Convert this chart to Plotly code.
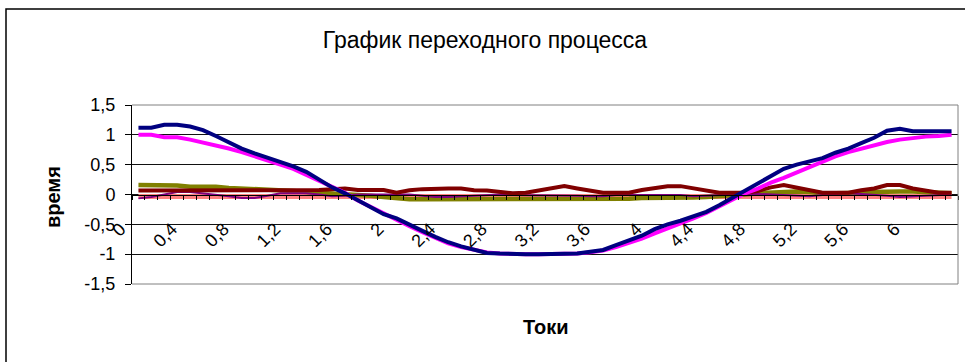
import plotly.graph_objects as go

# Current values (category axis), 0 … 6.3 in steps of 0.1
currents = [
    0.0, 0.1, 0.2, 0.3, 0.4, 0.5, 0.6, 0.7, 0.8, 0.9,
    1.0, 1.1, 1.2, 1.3, 1.4, 1.5, 1.6, 1.7, 1.8, 1.9,
    2.0, 2.1, 2.2, 2.3, 2.4, 2.5, 2.6, 2.7, 2.8, 2.9,
    3.0, 3.1, 3.2, 3.3, 3.4, 3.5, 3.6, 3.7, 3.8, 3.9,
    4.0, 4.1, 4.2, 4.3, 4.4, 4.5, 4.6, 4.7, 4.8, 4.9,
    5.0, 5.1, 5.2, 5.3, 5.4, 5.5, 5.6, 5.7, 5.8, 5.9,
    6.0, 6.1, 6.2, 6.3,
]

series_navy = [
    1.12, 1.12, 1.17, 1.17, 1.14, 1.08, 0.98, 0.87, 0.77, 0.69,
    0.62, 0.55, 0.47, 0.38, 0.25, 0.12, 0.02, -0.10, -0.22, -0.33,
    -0.40, -0.51, -0.61, -0.71, -0.80, -0.87, -0.93, -0.98, -0.99, -1.00,
    -1.00, -1.00, -1.00, -1.00, -0.99, -0.96, -0.93, -0.85, -0.77, -0.69,
    -0.58, -0.50, -0.44, -0.37, -0.29, -0.18, -0.06, 0.06, 0.18, 0.31,
    0.43, 0.50, 0.55, 0.61, 0.70, 0.77, 0.86, 0.95, 1.07, 1.10,
    1.06, 1.06, 1.06, 1.06,
]

series_magenta = [
    1.00, 1.00, 0.96, 0.96, 0.92, 0.87, 0.83, 0.77, 0.71, 0.645,
    0.58, 0.50, 0.43, 0.33, 0.24, 0.14, 0.03, -0.10, -0.21, -0.32,
    -0.42, -0.53, -0.63, -0.73, -0.82, -0.88, -0.93, -0.97, -0.99, -1.00,
    -1.00, -1.00, -1.00, -1.00, -0.99, -0.97, -0.94, -0.88, -0.81, -0.74,
    -0.65, -0.57, -0.48, -0.40, -0.31, -0.20, -0.08, 0.02, 0.10, 0.20,
    0.28, 0.37, 0.46, 0.55, 0.64, 0.71, 0.77, 0.83, 0.88, 0.92,
    0.95, 0.97, 0.98, 1.00,
]

series_olive = [
    0.16, 0.16, 0.16, 0.15, 0.13, 0.13, 0.13, 0.11, 0.10, 0.10,
    0.08, 0.07, 0.06, 0.04, 0.03, 0.02, 0.01, 0.00, -0.02, -0.04,
    -0.06, -0.08, -0.08, -0.08, -0.08, -0.08, -0.08, -0.08, -0.08, -0.08,
    -0.08, -0.08, -0.08, -0.08, -0.08, -0.08, -0.08, -0.08, -0.07, -0.06,
    -0.06, -0.06, -0.06, -0.05, -0.04, -0.03, -0.01, 0.00, 0.02, 0.03,
    0.04, 0.05, 0.04, 0.02, 0.02, 0.02, 0.03, 0.04, 0.05, 0.05,
    0.05, 0.04, 0.03, 0.02,
]

series_darkred = [
    0.065, 0.065, 0.065, 0.065, 0.065, 0.065, 0.065, 0.065, 0.065, 0.065,
    0.065, 0.065, 0.065, 0.065, 0.075, 0.09, 0.10, 0.075, 0.075, 0.075,
    0.03, 0.07, 0.09, 0.10, 0.10, 0.10, 0.07, 0.065, 0.05, 0.02,
    0.03, 0.07, 0.10, 0.14, 0.10, 0.06, 0.03, 0.03, 0.03, 0.075,
    0.10, 0.14, 0.14, 0.10, 0.06, 0.03, 0.03, 0.03, 0.06, 0.12,
    0.16, 0.12, 0.07, 0.03, 0.03, 0.03, 0.07, 0.10, 0.16, 0.16,
    0.10, 0.07, 0.03, 0.03,
]

series_purple = [
    -0.065, -0.04, 0.00, 0.04, 0.04, 0.02, 0.00, -0.03, -0.06, -0.06,
    -0.02, 0.02, 0.02, 0.02, 0.00, -0.03, -0.02, 0.00, 0.00, 0.00,
    0.00, 0.00, -0.02, -0.04, -0.04, -0.03, -0.01, 0.00, 0.00, -0.01,
    -0.01, -0.01, -0.01, -0.01, -0.02, -0.03, -0.03, -0.01, -0.01, -0.01,
    -0.01, 0.00, -0.01, -0.03, -0.02, 0.00, 0.00, 0.01, 0.01, 0.00,
    -0.01, -0.02, -0.03, -0.01, 0.01, 0.02, 0.01, 0.00, -0.02, -0.04,
    -0.03, -0.01, 0.00, 0.00,
]

series_salmon = [
    -0.035, -0.035, -0.035, -0.035, -0.035, -0.035, -0.035, -0.035, -0.035, -0.035,
    -0.035, -0.035, -0.035, -0.035, -0.035, -0.035, -0.035, -0.035, -0.035, -0.035,
    -0.035, -0.035, -0.035, -0.035, -0.035, -0.035, -0.035, -0.035, -0.035, -0.035,
    -0.035, -0.035, -0.035, -0.035, -0.035, -0.035, -0.035, -0.035, -0.035, -0.035,
    -0.035, -0.035, -0.035, -0.035, -0.035, -0.035, -0.035, -0.035, -0.035, -0.035,
    -0.035, -0.035, -0.035, -0.035, -0.035, -0.035, -0.035, -0.035, -0.035, -0.035,
    -0.035, -0.035, -0.035, -0.035,
]

x_tick_vals = [0.0, 0.4, 0.8, 1.2, 1.6, 2.0, 2.4, 2.8, 3.2, 3.6, 4.0, 4.4, 4.8, 5.2, 5.6, 6.0]
x_tick_text = ["0", "0,4", "0,8", "1,2", "1,6", "2", "2,4", "2,8", "3,2", "3,6",
               "4", "4,4", "4,8", "5,2", "5,6", "6"]
y_tick_vals = [1.5, 1.0, 0.5, 0.0, -0.5, -1.0, -1.5]
y_tick_text = ["1,5", "1", "0,5", "0", "-0,5", "-1", "-1,5"]

FONT = "Liberation Sans, Arial, sans-serif"

W, H = 965, 362
M_L, M_R, M_T, M_B = 132, 7, 105, 78
PW, PH = W - M_L - M_R, H - M_T - M_B

fig = go.Figure()

# drawing order: later traces sit on top
styles = [
    (series_salmon, "#FF8080", 5),
    (series_olive, "#808000", 4.5),
    (series_purple, "#800080", 2),
    (series_darkred, "#800000", 4),
    (series_magenta, "#FF00FF", 4),
    (series_navy, "#000080", 4),
]
for values, color, width in styles:
    fig.add_trace(go.Scatter(
        x=currents, y=values, mode="lines",
        line=dict(color=color, width=width),
        showlegend=False, hoverinfo="skip",
    ))

fig.update_layout(
    width=W, height=H,
    margin=dict(l=M_L, r=M_R, t=M_T, b=M_B, pad=0),
    paper_bgcolor="white", plot_bgcolor="white",
    font=dict(family=FONT, color="black", size=18),
    title=dict(
        text="График переходного процесса",
        x=485 / W, xref="container", xanchor="center",
        y=1 - 40 / H, yref="container", yanchor="middle",
        font=dict(family=FONT, size=23, color="black"),
    ),
    xaxis=dict(
        range=[-0.05, 6.35],
        anchor="free", position=0.5,
        showgrid=False, zeroline=False,
        showline=True, linecolor="black", linewidth=1,
        tickmode="array", tickvals=x_tick_vals, ticktext=x_tick_text,
        tickangle=-45, ticks="outside", ticklen=0,
        ticklabelstandoff=16, ticklabelshift=-18,
        tickfont=dict(family=FONT, size=18, color="black"),
        minor=dict(tick0=-0.05, dtick=0.1, ticks="outside", ticklen=4,
                   tickcolor="black", tickwidth=1, showgrid=False),
    ),
    yaxis=dict(
        range=[-1.5, 1.5],
        tickmode="array", tickvals=y_tick_vals, ticktext=y_tick_text,
        showgrid=True, gridcolor="#111111", gridwidth=1,
        zeroline=False,
        showline=True, linecolor="black", linewidth=1,
        ticks="outside", ticklen=6, tickcolor="black",
        ticklabelstandoff=6,
        tickfont=dict(family=FONT, size=18, color="black"),
    ),
)

# grey frame of the plotting area: top, right and bottom edges
fig.add_shape(type="path", xref="x domain", yref="y domain",
              path="M 0 1 L 1 1 L 1 0 L 0 0", layer="above",
              line=dict(color="#808080", width=1))

# outer border of the whole chart
fig.add_shape(type="rect", xref="paper", yref="paper",
              x0=(6 - M_L) / PW, x1=1.2, y0=-0.8, y1=(H - M_B - 9) / PH,
              layer="above", line=dict(color="#000000", width=1.5))

# axis titles
fig.add_annotation(text="Токи", xref="paper", yref="paper",
                   x=(545 - M_L) / PW, y=-(327 - (H - M_B)) / PH,
                   xanchor="center", yanchor="middle", showarrow=False,
                   font=dict(family=FONT, size=20, color="black", weight="bold"))
fig.add_annotation(text="время", xref="paper", yref="paper", textangle=-90,
                   x=(53 - M_L) / PW, y=((H - M_B) - 197) / PH,
                   xanchor="center", yanchor="middle", showarrow=False,
                   font=dict(family=FONT, size=20, color="black", weight="bold"))

fig.write_html("out.html")
